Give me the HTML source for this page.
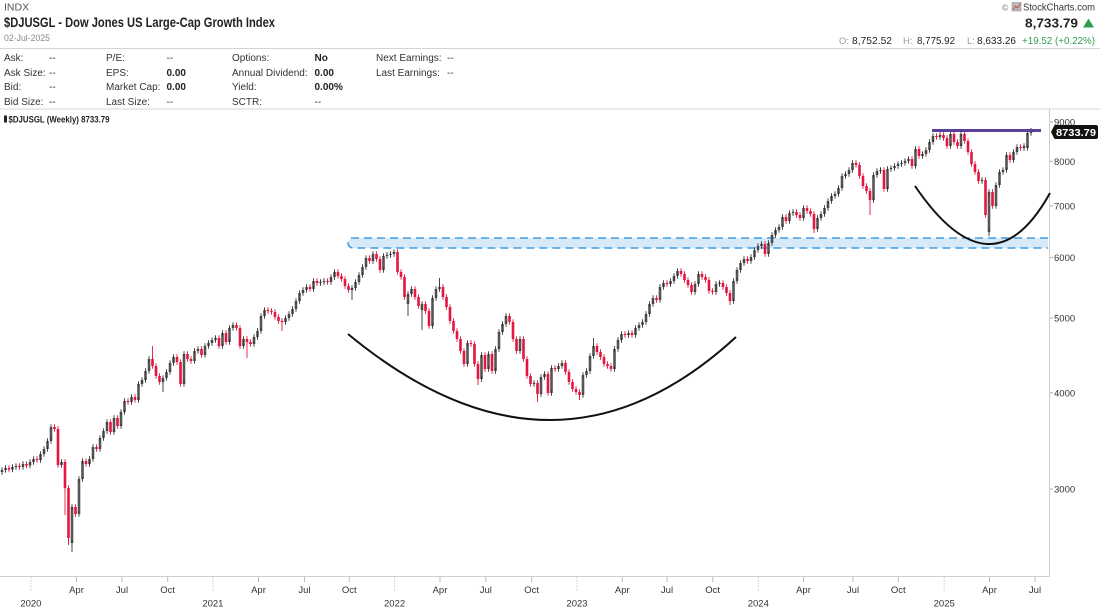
<!DOCTYPE html>
<html><head><meta charset="utf-8">
<style>
html,body{margin:0;padding:0;background:#fff;width:1100px;height:609px;overflow:hidden;}
svg{display:block;font-family:"Liberation Sans",sans-serif;}
</style></head><body>
<svg width="1100" height="609" viewBox="0 0 1100 609" xmlns="http://www.w3.org/2000/svg">
<defs>
<marker id="mu" markerUnits="userSpaceOnUse" markerWidth="6" markerHeight="8" refX="3" refY="4" viewBox="0 0 6 8" orient="0" overflow="visible"><path d="M3,1.3V6.7" stroke="#333" stroke-width="0.9"/></marker>
<marker id="md" markerUnits="userSpaceOnUse" markerWidth="6" markerHeight="8" refX="3" refY="4" viewBox="0 0 6 8" orient="0" overflow="visible"><path d="M3,1.3V6.7" stroke="#e3173e" stroke-width="0.9"/></marker>
</defs>
<rect width="1100" height="609" fill="#fff"/>

<!-- Header left -->
<text x="4" y="10.5" font-size="10.5" fill="#555">INDX</text>
<text x="4" y="27" font-size="14" font-weight="bold" fill="#222" textLength="271" lengthAdjust="spacingAndGlyphs">$DJUSGL - Dow Jones US Large-Cap Growth Index</text>
<text x="4" y="41" font-size="9" fill="#888" textLength="46" lengthAdjust="spacingAndGlyphs">02-Jul-2025</text>

<!-- Header right -->
<text x="1002" y="10.5" font-size="8.5" fill="#777">©</text>
<rect x="1012" y="2.5" width="9" height="8.5" fill="#bbb" stroke="#888" stroke-width="0.5"/>
<polyline points="1013,9.5 1015.5,6 1017.5,8 1020.5,3.5" fill="none" stroke="#c33" stroke-width="0.8"/>
<text x="1023" y="10.5" font-size="10.5" fill="#333" textLength="72" lengthAdjust="spacingAndGlyphs">StockCharts.com</text>
<text x="1025" y="27.5" font-size="13" font-weight="bold" fill="#222" textLength="53" lengthAdjust="spacingAndGlyphs">8,733.79</text>
<polygon points="1083,27.5 1094,27.5 1088.5,18.5" fill="#2e9e4f"/>
<text x="839" y="44" font-size="9.5" fill="#999">O:</text>
<text x="852" y="44" font-size="10.5" fill="#222" textLength="40" lengthAdjust="spacingAndGlyphs">8,752.52</text>
<text x="903" y="44" font-size="9.5" fill="#999">H:</text>
<text x="917" y="44" font-size="10.5" fill="#222" textLength="38" lengthAdjust="spacingAndGlyphs">8,775.92</text>
<text x="967" y="44" font-size="9.5" fill="#999">L:</text>
<text x="977" y="44" font-size="10.5" fill="#222" textLength="39" lengthAdjust="spacingAndGlyphs">8,633.26</text>
<text x="1022" y="44" font-size="10.5" fill="#2e9e4f" textLength="73" lengthAdjust="spacingAndGlyphs">+19.52 (+0.22%)</text>

<line x1="0" y1="48.5" x2="1100" y2="48.5" stroke="#d4d4d4" stroke-width="1"/>

<!-- Info table -->
<g font-size="10" fill="#333">
<text x="4" y="61">Ask:</text>
<text x="4" y="76">Ask Size:</text>
<text x="4" y="90">Bid:</text>
<text x="4" y="105">Bid Size:</text>
<text x="49" y="61">--</text><text x="49" y="76">--</text><text x="49" y="90">--</text><text x="49" y="105">--</text>

<text x="106" y="61">P/E:</text>
<text x="106" y="76">EPS:</text>
<text x="106" y="90">Market Cap:</text>
<text x="106" y="105">Last Size:</text>
<text x="166.5" y="61">--</text>
<text x="166.5" y="76" font-weight="bold" fill="#222">0.00</text>
<text x="166.5" y="90" font-weight="bold" fill="#222">0.00</text>
<text x="166.5" y="105">--</text>

<text x="232" y="61">Options:</text>
<text x="232" y="76">Annual Dividend:</text>
<text x="232" y="90">Yield:</text>
<text x="232" y="105">SCTR:</text>
<text x="314.5" y="61" font-weight="bold" fill="#222">No</text>
<text x="314.5" y="76" font-weight="bold" fill="#222">0.00</text>
<text x="314.5" y="90" font-weight="bold" fill="#222">0.00%</text>
<text x="314.5" y="105">--</text>

<text x="376" y="61">Next Earnings:</text>
<text x="376" y="76">Last Earnings:</text>
<text x="447" y="61">--</text><text x="447" y="76">--</text>
</g>

<line x1="0" y1="109" x2="1100" y2="109" stroke="#d4d4d4" stroke-width="1"/>

<!-- Chart frame -->
<line x1="1049.5" y1="109" x2="1049.5" y2="576.5" stroke="#cfcfcf" stroke-width="1"/>
<line x1="0" y1="576.5" x2="1049.5" y2="576.5" stroke="#cfcfcf" stroke-width="1"/>

<!-- Chart label -->
<rect x="4" y="115.5" width="3" height="7" fill="#222"/>
<text x="8.5" y="122.5" font-size="9" font-weight="bold" fill="#222" textLength="101" lengthAdjust="spacingAndGlyphs">$DJUSGL (Weekly) 8733.79</text>

<!-- Y axis -->
<g stroke="#aaa" stroke-width="1">
<line x1="1050" y1="122" x2="1053" y2="122"/>
<line x1="1050" y1="161.3" x2="1053" y2="161.3"/>
<line x1="1050" y1="206" x2="1053" y2="206"/>
<line x1="1050" y1="257.4" x2="1053" y2="257.4"/>
<line x1="1050" y1="318" x2="1053" y2="318"/>
<line x1="1050" y1="392.8" x2="1053" y2="392.8"/>
<line x1="1050" y1="489" x2="1053" y2="489"/>
</g>
<g font-size="9.5" fill="#333">
<text x="1054" y="125.5">9000</text>
<text x="1054" y="164.8">8000</text>
<text x="1054" y="209.5">7000</text>
<text x="1054" y="260.9">6000</text>
<text x="1054" y="321.5">5000</text>
<text x="1054" y="396.3">4000</text>
<text x="1054" y="492.5">3000</text>
</g>

<!-- X axis ticks -->
<g stroke="#bbb" stroke-width="1">
<line x1="76.5" y1="577" x2="76.5" y2="582"/><line x1="122" y1="577" x2="122" y2="582"/><line x1="167.7" y1="577" x2="167.7" y2="582"/>
<line x1="258.5" y1="577" x2="258.5" y2="582"/><line x1="304.5" y1="577" x2="304.5" y2="582"/><line x1="349.3" y1="577" x2="349.3" y2="582"/>
<line x1="440" y1="577" x2="440" y2="582"/><line x1="485.8" y1="577" x2="485.8" y2="582"/><line x1="531.7" y1="577" x2="531.7" y2="582"/>
<line x1="622.3" y1="577" x2="622.3" y2="582"/><line x1="667" y1="577" x2="667" y2="582"/><line x1="712.7" y1="577" x2="712.7" y2="582"/>
<line x1="803.5" y1="577" x2="803.5" y2="582"/><line x1="853" y1="577" x2="853" y2="582"/><line x1="898.3" y1="577" x2="898.3" y2="582"/>
<line x1="989.5" y1="577" x2="989.5" y2="582"/><line x1="1035" y1="577" x2="1035" y2="582"/>
</g>
<g stroke="#c8c8c8" stroke-width="1" stroke-dasharray="1.5 1.5">
<line x1="30.9" y1="577" x2="30.9" y2="592"/><line x1="212.9" y1="577" x2="212.9" y2="592"/><line x1="394.6" y1="577" x2="394.6" y2="592"/>
<line x1="577" y1="577" x2="577" y2="592"/><line x1="758.3" y1="577" x2="758.3" y2="592"/><line x1="944.2" y1="577" x2="944.2" y2="592"/>
</g>
<g font-size="9.5" fill="#333" text-anchor="middle">
<text x="76.5" y="593">Apr</text><text x="122" y="593">Jul</text><text x="167.7" y="593">Oct</text>
<text x="258.5" y="593">Apr</text><text x="304.5" y="593">Jul</text><text x="349.3" y="593">Oct</text>
<text x="440" y="593">Apr</text><text x="485.8" y="593">Jul</text><text x="531.7" y="593">Oct</text>
<text x="622.3" y="593">Apr</text><text x="667" y="593">Jul</text><text x="712.7" y="593">Oct</text>
<text x="803.5" y="593">Apr</text><text x="853" y="593">Jul</text><text x="898.3" y="593">Oct</text>
<text x="989.5" y="593">Apr</text><text x="1035" y="593">Jul</text>
<text x="30.9" y="606.5">2020</text><text x="212.9" y="606.5">2021</text><text x="394.6" y="606.5">2022</text>
<text x="577" y="606.5">2023</text><text x="758.3" y="606.5">2024</text><text x="944.2" y="606.5">2025</text>
</g>

<!-- Blue support band -->
<path d="M1048,238 H353 A5,5 0 0 0 353,248 H1048 Z" fill="#d6eaf9"/>
<path d="M1048,238 H353 A5,5 0 0 0 353,248 H1048" fill="none" stroke="#3f9ee6" stroke-width="1.6" stroke-dasharray="8 5"/>

<!-- Long wicks -->
<g stroke="#333" stroke-width="0.9">
<line x1="72" y1="543" x2="72" y2="552"/>
<line x1="163" y1="382" x2="163" y2="392"/>
<line x1="352" y1="290" x2="352" y2="300"/>
<line x1="408" y1="304" x2="408" y2="316"/>
<line x1="422" y1="310" x2="422" y2="330"/>
<line x1="439.5" y1="278" x2="439.5" y2="287"/>
<line x1="593.5" y1="338" x2="593.5" y2="346"/>
<line x1="989" y1="232" x2="989" y2="236"/>
<line x1="1031" y1="128" x2="1031" y2="132"/>
</g>
<g stroke="#e3173e" stroke-width="0.9">
<line x1="65" y1="488" x2="65" y2="515"/>
<line x1="68.5" y1="538" x2="68.5" y2="545"/>
<line x1="152.5" y1="346" x2="152.5" y2="359"/>
<line x1="247" y1="342" x2="247" y2="358"/>
<line x1="282" y1="322" x2="282" y2="331"/>
<line x1="478" y1="379" x2="478" y2="385"/>
<line x1="537.5" y1="394" x2="537.5" y2="402"/>
<line x1="579.5" y1="395" x2="579.5" y2="400"/>
<line x1="730" y1="301" x2="730" y2="305"/>
<line x1="814" y1="229" x2="814" y2="233"/>
<line x1="870" y1="200" x2="870" y2="215"/>
</g>

<!-- Up candles -->
<path fill="none" stroke="#555" stroke-width="2.6" marker-start="url(#mu)" marker-mid="url(#mu)" marker-end="url(#mu)" d="M2,470V472M5.5,468V470M12.5,467V469.5M16,466V467M23,464V467M30,462V465.5M33.5,459V462M40.5,454V460M44,449V454M47.5,441V449M51,427V441M61.5,462V465M72,507V543M79,479V514M82.5,461V479M89.5,459V464M93,447V459M100,438V449M103.5,431V438M107,422V431M114,418V432M121,412V426M124.5,401V412M131.5,397V402M138.5,384V400M142,380V384M145.5,371V380M149,359V371M163,378V382M166.5,372V378M170,363V372M173.5,357V363M184,354V384M194.5,351V361M198,349V351M205,346V355M208.5,343V346M212,340V343M215.5,338V340M222.5,333V346M229.5,328V342M233,325V328M243.5,339V346M254,337V344M257.5,331V337M261,316V331M264.5,310V316M285.5,318V322M289,314V318M292.5,309V314M296,301V309M299.5,293V301M303,290V293M306.5,287V290M313.5,281V289M320.5,282V283M324,281V282M331,277V282M334.5,272V277M352,288V290M355.5,282V288M359,275V282M362.5,267V275M366,258V267M373,254V261M383.5,256V270M387,255V256M390.5,254V255M394,252V254M408,294V304M411.5,289V294M422,304V310M432.5,298V326M436,289V298M439.5,287V289M467.5,343V364M481.5,355V379M488.5,354V369M495.5,349V371M499,332V349M502.5,324V332M506,316V324M520,339V351M534,383V384M541,377V394M544.5,374V377M551.5,368V393M558.5,366V369M562,363V366M583,375V395M586.5,371V375M590,356V371M593.5,346V356M614.5,349V369M618,340V349M621.5,334V340M628.5,333V335M635.5,328V335M639,325V328M642.5,322V325M646,314V322M649.5,304V314M653,298V304M660,287V300M663.5,283V287M670.5,281V284M674,276V281M677.5,271V276M695,284V292M698.5,274V284M716,284V292M719.5,283V284M733.5,281V301M737,270V281M740.5,263V270M744,259V263M751,257V261M754.5,250V257M758,246V250M761.5,244V246M768.5,243V254M772,235V243M775.5,230V235M779,227V230M782.5,217V227M789.5,213V221M793,212V213M803.5,208V218M817.5,218V229M821,214V218M824.5,208V214M828,201V208M831.5,196V201M835,194V196M838.5,188V194M842,176V188M845.5,174V176M849,170V174M852.5,163V170M873.5,175V200M877,171V175M880.5,170V171M887.5,169V189M891,168V169M894.5,166V168M898,164V166M901.5,163V164M905,161V163M908.5,159V161M915.5,149V166M922.5,154V156M926,150V154M929.5,142V150M933,136V142M940,135V137M950.5,134V146M961,134V146M982,180V181M989,192V232M996,185V206M999.5,172V185M1003,170V172M1006.5,155V170M1013.5,152V160M1017,147V152M1024,146V148M1027.5,133V148M1031,132V133"/>

<!-- Down candles -->
<path fill="none" stroke="#e3173e" stroke-width="2.6" marker-start="url(#md)" marker-mid="url(#md)" marker-end="url(#md)" d="M9,468V469.5M19.5,466V467M26.5,464V465.5M37,459V460M54.5,427V429M58,429V465M65,462V488M68.5,488V538M75.5,507V514M86,461V464M96.5,447V449M110.5,422V432M117.5,418V426M128,401V402M135,397V400M152.5,359V366M156,366V376M159.5,376V382M177,357V362M180.5,362V384M187.5,354V359M191,359V361M201.5,349V355M219,338V346M226,333V342M236.5,325V328M240,328V346M247,339V342M250.5,342V344M268,310V311M271.5,311V312M275,312V317M278.5,317V321M282,321V322M310,287V289M317,281V283M327.5,281V282M338,272V276M341.5,276V279M345,279V286M348.5,286V290M369.5,258V261M376.5,254V259M380,259V270M397.5,252V272M401,272V277M404.5,277V297M415,289V297M418.5,297V306M425.5,304V311M429,311V326M443,287V297M446.5,297V307M450,307V321M453.5,321V331M457,331V339M460.5,339V351M464,351V364M471,343V344M474.5,344V364M478,364V379M485,355V369M492,354V371M509.5,316V322M513,322V339M516.5,339V351M523.5,339V359M527,359V376M530.5,376V384M537.5,383V394M548,374V393M555,368V369M565.5,363V372M569,372V382M572.5,382V389M576,389V392M579.5,392V395M597,346V352M600.5,352V357M604,357V364M607.5,364V366M611,366V369M625,334V335M632,333V335M656.5,298V300M667,283V284M681,271V274M684.5,274V280M688,280V285M691.5,285V292M702,274V277M705.5,277V280M709,280V291M712.5,291V292M723,283V287M726.5,287V293M730,293V301M747.5,259V261M765,244V254M786,217V221M796.5,212V215M800,215V218M807,208V211M810.5,211V214M814,214V229M856,163V165M859.5,165V176M863,176V186M866.5,186V191M870,191V200M884,170V189M912,159V166M919,149V156M936.5,136V137M943.5,135V138M947,138V146M954,134V142M957.5,142V146M964.5,134V141M968,141V152M971.5,152V164M975,164V172M978.5,172V181M985.5,180V215M992.5,192V206M1010,155V160M1020.5,147V148"/>

<!-- Overlays -->
<path d="M348,334 Q554,504.5 736,337" fill="none" stroke="#111" stroke-width="2"/>
<path d="M915,186 Q991.5,298.5 1050,193" fill="none" stroke="#111" stroke-width="2"/>
<line x1="932" y1="130.5" x2="1041" y2="130.5" stroke="#5b3f9c" stroke-width="3"/>

<!-- Last price tag -->
<path d="M1051,132 L1054,126 Q1054,125 1056,125 H1096 Q1098,125 1098,127 V137 Q1098,139 1096,139 H1056 Q1054,139 1054,138 Z" fill="#111"/>
<text x="1076" y="135.8" font-size="10" font-weight="bold" fill="#fff" text-anchor="middle" textLength="40" lengthAdjust="spacingAndGlyphs">8733.79</text>
</svg>
</body></html>
